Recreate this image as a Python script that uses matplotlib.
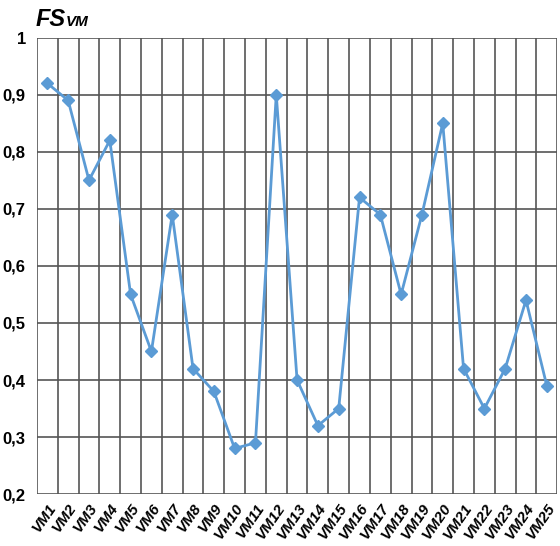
import matplotlib
matplotlib.use("Agg")
import matplotlib.pyplot as plt
from matplotlib.ticker import FixedLocator

categories = [f"VM{i}" for i in range(1, 26)]
values = [0.92, 0.89, 0.75, 0.82, 0.55, 0.45, 0.69, 0.42, 0.38, 0.28, 0.29, 0.90,
          0.40, 0.32, 0.35, 0.72, 0.69, 0.55, 0.69, 0.85, 0.42, 0.35, 0.42, 0.54, 0.39]
yticks = [0.2, 0.3, 0.4, 0.5, 0.6, 0.7, 0.8, 0.9, 1.0]

plt.rcParams['font.family'] = ['Liberation Sans', 'DejaVu Sans']

fig = plt.figure(figsize=(5.6, 5.46), dpi=100)
ax = fig.add_axes([0.066, 0.095, 0.929, 0.836])

x = list(range(len(categories)))
ax.plot(x, values, color='#5B9BD5', lw=2, marker='D', markersize=6, zorder=3)

ax.set_xlim(-0.5, len(categories) - 0.5)
ax.set_ylim(0.2, 1.0)
ax.yaxis.set_major_locator(FixedLocator(yticks))
ax.set_yticklabels([("%g" % v).replace('.', ',') for v in yticks],
                   fontsize=12, fontweight='bold')
ax.set_xticks(x)
ax.set_xticklabels(categories, rotation=55, ha='right', rotation_mode='anchor',
                   fontsize=11, fontweight='bold', fontstyle='italic')
ax.xaxis.set_minor_locator(FixedLocator([i - 0.5 for i in range(len(categories) + 1)]))
ax.tick_params(axis='both', which='both', length=0)
ax.tick_params(axis='x', pad=5)
ax.tick_params(axis='y', pad=8)
ax.grid(True, axis='y', which='major', color='#555555', lw=1.2)
ax.grid(True, axis='x', which='minor', color='#555555', lw=1.2)
for s in ax.spines.values():
    s.set_visible(False)
ax.set_axisbelow(True)

fig.text(0.063, 0.952, "FS", fontsize=17, fontweight='bold', fontstyle='italic',
         ha='left', va='baseline')
fig.text(0.118, 0.952, "VM", fontsize=11, fontweight='bold', fontstyle='italic',
         ha='left', va='baseline')

fig.savefig("out.png", dpi=100)
